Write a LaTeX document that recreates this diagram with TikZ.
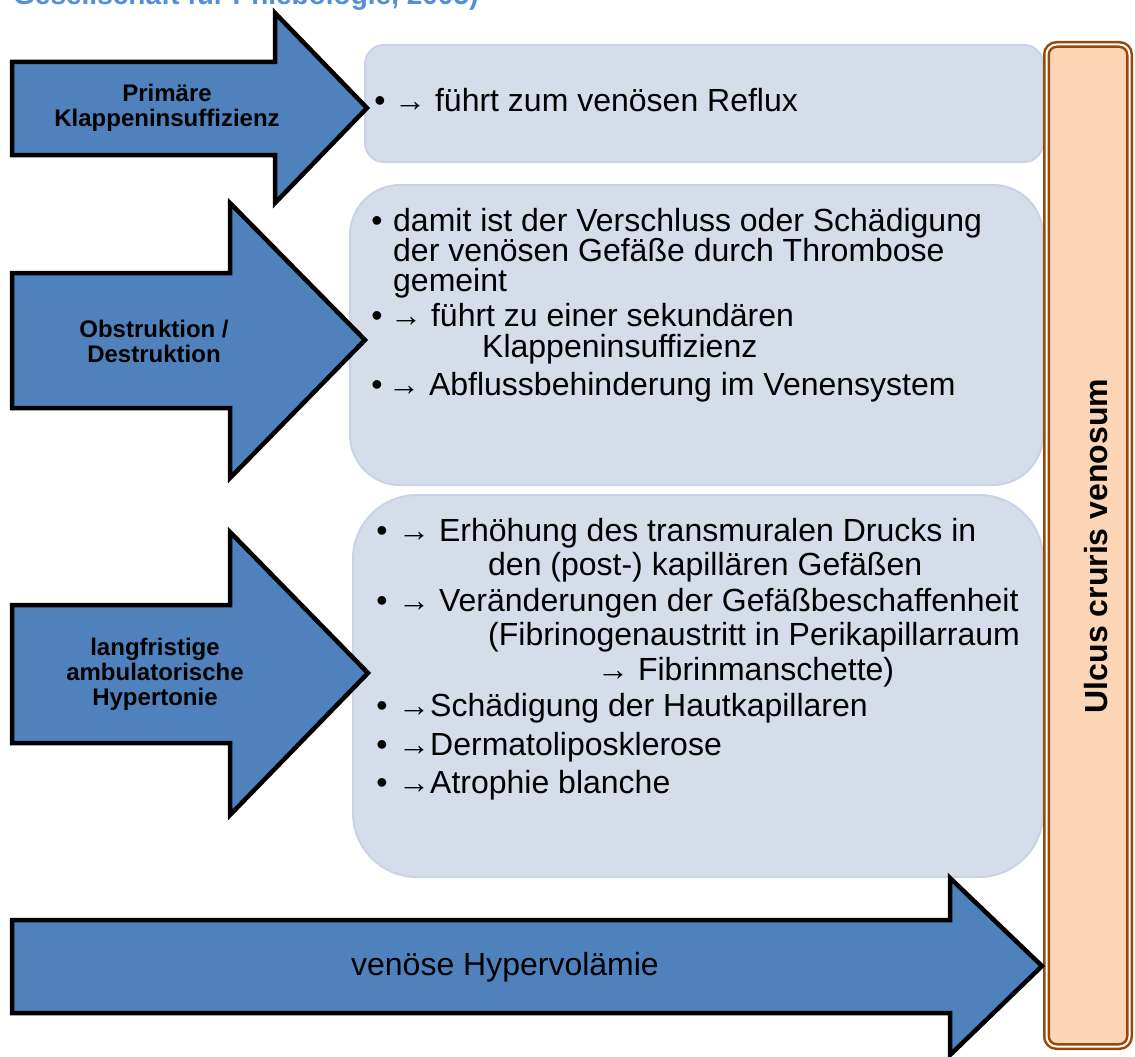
\documentclass[tikz,border=0pt]{standalone}
\usepackage{fontspec}
\setmainfont{Liberation Sans}
\usepackage{xcolor}
\usepackage{tikz}
\definecolor{pfeilblau}{HTML}{4F81BD}
\definecolor{kastengrau}{HTML}{D5DCEA}
\definecolor{kastenrand}{HTML}{CAD2E4}
\definecolor{pfirsich}{HTML}{FBD5B5}
\definecolor{braun}{HTML}{984807}
\definecolor{titelblau}{HTML}{558ED5}
\tikzset{
    blockpfeil/.style={fill=pfeilblau, draw=black, line width=4.5pt, line join=miter},
    infokasten/.style={fill=kastengrau, draw=kastenrand, line width=2pt},
    zeile/.style={anchor=base west, inner sep=0pt, font=\fontsize{32}{32}\selectfont},
    punkt/.style={anchor=base, inner sep=0pt, font=\fontsize{32}{32}\selectfont},
    pfeiltext/.style={align=center, inner sep=0pt, font=\fontsize{24}{25}\selectfont\bfseries}
}

\begin{document}
\begin{tikzpicture}[x=1pt, y=-1pt]
    \useasboundingbox (0,0) rectangle (1135,1057);
    \clip (0,0) rectangle (1135,1057);

    % Titel (oben abgeschnitten)
    \node[anchor=base west, inner sep=0pt, text=titelblau, font=\fontsize{28}{28}\selectfont\bfseries] (titel) at (13,5) {Gesellschaft für Phlebologie, 2005)};

    % Kästen mit den Erklärungen
    \draw[infokasten, rounded corners=19pt] (365,45) rectangle (1043,162);
    \draw[infokasten, rounded corners=50pt] (350,185) rectangle (1043,485);
    \draw[infokasten, rounded corners=64pt] (353,495) rectangle (1043,877);

    % Ergebnis rechts
    \draw[draw=braun, double=white, double distance=2pt, line width=2.5pt, fill=pfirsich, rounded corners=10pt] (1046.5,44.5) rectangle (1129.5,1046.5);
    \node[rotate=90, inner sep=0pt, font=\fontsize{32}{32}\selectfont\bfseries] (ulcus) at (1096,546) {Ulcus cruris venosum};

    % Pfeile
    \draw[blockpfeil] (12,62) -- (275,62) -- (275,13) -- (367,108) -- (275,203) -- (275,155) -- (12,155) -- cycle;
    \draw[blockpfeil] (12,273) -- (230,273) -- (230,203) -- (365,340) -- (230,478) -- (230,408) -- (12,408) -- cycle;
    \draw[blockpfeil] (12,605) -- (230,605) -- (230,532) -- (368,673) -- (230,815) -- (230,743) -- (12,743) -- cycle;
    \draw[blockpfeil] (12,920) -- (950,920) -- (950,878) -- (1042,966) -- (950,1055) -- (950,1013) -- (12,1013) -- cycle;

    % Beschriftung der Pfeile
    \node[pfeiltext] (primaer) at (167,108) {Primäre\\Klappeninsuffizienz};
    \node[pfeiltext] (obstruktion) at (154,341) {Obstruktion /\\Destruktion};
    \node[pfeiltext] (hypertonie) at (155,674) {langfristige\\ambulatorische\\Hypertonie};
    \node[inner sep=0pt, font=\fontsize{32}{32}\selectfont] (hypervolaemie) at (505,967) {venöse Hypervolämie};

    % Text Kasten 1
    \node[punkt] (p11) at (380,111) {•};
    \node[zeile] (z11) at (394,111) {→ führt zum venösen Reflux};

    % Text Kasten 2
    \node[punkt] (p21) at (377,231) {•};
    \node[zeile] (z21) at (393,231) {damit ist der Verschluss oder Schädigung};
    \node[zeile] (z22) at (393,261) {der venösen Gefäße durch Thrombose};
    \node[zeile] (z23) at (393,291) {gemeint};
    \node[punkt] (p22) at (377,326) {•};
    \node[zeile] (z24) at (390,326) {→ führt zu einer sekundären};
    \node[zeile] (z25) at (482,357) {Klappeninsuffizienz};
    \node[punkt] (p23) at (377,395) {•};
    \node[zeile] (z26) at (388,395) {→ Abflussbehinderung im Venensystem};

    % Text Kasten 3
    \node[punkt] (p31) at (382,541) {•};
    \node[zeile] (z31) at (398,541) {→ Erhöhung des transmuralen Drucks in};
    \node[zeile] (z32) at (488,575) {den (post-) kapillären Gefäßen};
    \node[punkt] (p32) at (382,611) {•};
    \node[zeile] (z33) at (398,611) {→ Veränderungen der Gefäßbeschaffenheit};
    \node[zeile] (z34) at (488,645) {(Fibrinogenaustritt in Perikapillarraum};
    \node[zeile] (z35) at (597,680) {→ Fibrinmanschette)};
    \node[punkt] (p33) at (382,716) {•};
    \node[zeile] (z36) at (398,716) {→Schädigung der Hautkapillaren};
    \node[punkt] (p34) at (382,755) {•};
    \node[zeile] (z37) at (398,755) {→Dermatoliposklerose};
    \node[punkt] (p35) at (382,793) {•};
    \node[zeile] (z38) at (398,793) {→Atrophie blanche};
\end{tikzpicture}
\end{document}
